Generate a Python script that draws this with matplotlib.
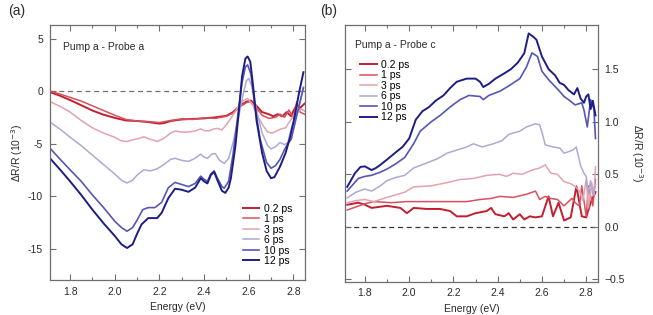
import matplotlib.pyplot as plt
from matplotlib.ticker import MultipleLocator

plt.rcParams['font.family'] = ['Liberation Sans', 'DejaVu Sans']

labels = ['0.2 ps', '1 ps', '3 ps', '6 ps', '10 ps', '12 ps']
colors = ['#c41e2e', '#d8505e', '#e2a3ae', '#abaad6', '#5656b6', '#1d1d86']
widths = [1.4, 1.1, 1.1, 1.1, 1.2, 1.4]

# (a) Pump a - Probe a
e_02a = [1.71, 1.75, 1.80, 1.85, 1.90, 1.95, 2.00, 2.05, 2.10, 2.15, 2.20, 2.22, 2.25, 2.30, 2.35,
         2.40, 2.45, 2.50, 2.53, 2.56, 2.59, 2.61, 2.63, 2.66, 2.69, 2.71, 2.73, 2.75, 2.77, 2.79,
         2.80, 2.815, 2.83, 2.85]
v_02a = [-0.1, -0.4, -0.85, -1.35, -1.85, -2.25, -2.55, -2.8, -2.85, -2.95, -3.1, -3.05, -2.85, -2.7, -2.65,
         -2.6, -2.5, -2.35, -2.0, -1.4, -1.0, -0.9, -1.3, -2.0, -2.2, -2.4, -2.2, -2.4, -2.0, -2.4,
         -1.9, -1.3, -1.6, -1.2]
e_1a = [1.71, 1.75, 1.80, 1.85, 1.90, 1.95, 2.00, 2.05, 2.10, 2.15, 2.20, 2.25, 2.30, 2.35, 2.40,
        2.45, 2.50, 2.53, 2.56, 2.59, 2.605, 2.63, 2.66, 2.69, 2.72, 2.74, 2.76, 2.78, 2.80, 2.815,
        2.83, 2.85]
v_1a = [0.0, -0.25, -0.6, -0.95, -1.4, -1.85, -2.3, -2.7, -2.85, -2.9, -3.0, -2.8, -2.65, -2.7, -2.55,
        -2.6, -2.4, -2.1, -1.5, -1.1, -1.0, -1.5, -2.3, -2.6, -2.5, -2.2, -2.5, -1.8, -2.6, -1.0,
        -2.0, -2.2]
e_3a = [1.71, 1.76, 1.80, 1.85, 1.90, 1.95, 2.00, 2.03, 2.055, 2.08, 2.11, 2.13, 2.16, 2.19, 2.22,
        2.25, 2.27, 2.30, 2.33, 2.36, 2.385, 2.40, 2.42, 2.445, 2.46, 2.48, 2.50, 2.52, 2.55, 2.575,
        2.595, 2.615, 2.64, 2.665, 2.685, 2.705, 2.725, 2.745, 2.765, 2.78, 2.80, 2.82, 2.835, 2.85]
v_3a = [-1.0, -1.5, -2.0, -2.8, -3.5, -4.0, -4.4, -4.75, -4.8, -4.65, -4.5, -4.35, -4.6, -4.8, -4.5,
        -4.0, -3.8, -3.9, -3.9, -3.8, -3.6, -3.75, -3.8, -3.6, -3.55, -3.7, -3.2, -2.6, -1.6, -0.9,
        -0.7, -1.2, -2.4, -3.3, -3.9, -4.0, -3.8, -3.6, -3.5, -3.0, -2.4, -2.0, -1.7, -1.9]
e_6a = [1.71, 1.76, 1.80, 1.85, 1.90, 1.95, 2.00, 2.03, 2.055, 2.08, 2.10, 2.13, 2.16, 2.19, 2.22,
        2.25, 2.27, 2.30, 2.33, 2.36, 2.385, 2.40, 2.415, 2.435, 2.45, 2.47, 2.49, 2.51, 2.53, 2.555,
        2.575, 2.59, 2.60, 2.615, 2.635, 2.66, 2.685, 2.70, 2.72, 2.74, 2.76, 2.775, 2.79, 2.81, 2.83,
        2.845]
v_6a = [-2.95, -3.7, -4.4, -5.2, -6.1, -7.0, -7.9, -8.5, -8.75, -8.5, -8.0, -7.5, -7.6, -7.4, -7.0,
        -6.5, -6.4, -6.6, -6.7, -6.4, -6.0, -6.3, -6.4, -6.0, -5.95, -6.6, -6.9, -6.4, -4.9, -2.4,
        -0.3, 1.0, 1.2, 0.4, -1.8, -4.0, -5.2, -5.5, -5.3, -4.9, -5.1, -4.9, -3.6, -2.4, -1.0,
        0.4]
e_10a = [1.71, 1.76, 1.80, 1.85, 1.90, 1.95, 2.00, 2.03, 2.055, 2.08, 2.10, 2.125, 2.15, 2.18, 2.21,
         2.24, 2.27, 2.30, 2.33, 2.36, 2.385, 2.40, 2.415, 2.43, 2.445, 2.46, 2.48, 2.49, 2.51, 2.53,
         2.55, 2.57, 2.585, 2.595, 2.61, 2.625, 2.65, 2.68, 2.70, 2.72, 2.74, 2.76, 2.775, 2.79, 2.81,
         2.83, 2.845]
v_10a = [-5.45, -6.6, -7.5, -8.6, -9.9, -11.1, -12.4, -13.0, -13.35, -13.0, -12.3, -11.3, -11.1, -11.1, -10.6,
         -9.2, -8.7, -8.9, -9.1, -8.8, -8.1, -8.4, -8.6, -7.9, -7.6, -8.3, -9.1, -9.25, -8.6, -6.0,
         -2.5, 0.8, 2.3, 2.5, 1.6, -1.0, -4.5, -6.8, -7.35, -7.1, -6.5, -5.6, -5.0, -4.6, -2.8,
         -1.0, 0.3]
e_12a = [1.71, 1.76, 1.80, 1.85, 1.90, 1.95, 2.00, 2.03, 2.055, 2.08, 2.10, 2.12, 2.15, 2.19, 2.21,
         2.24, 2.27, 2.30, 2.33, 2.36, 2.385, 2.40, 2.415, 2.43, 2.445, 2.46, 2.48, 2.495, 2.51, 2.52,
         2.54, 2.555, 2.57, 2.585, 2.595, 2.607, 2.62, 2.635, 2.66, 2.68, 2.70, 2.715, 2.74, 2.765, 2.785,
         2.805, 2.825, 2.845]
v_12a = [-6.4, -7.6, -8.6, -9.9, -11.3, -12.6, -13.8, -14.6, -14.95, -14.6, -13.6, -12.7, -12.1, -12.1, -11.6,
         -10.2, -9.3, -9.4, -9.6, -9.2, -8.3, -8.6, -8.8, -8.0, -7.7, -8.5, -9.5, -9.7, -9.2, -8.3,
         -5.3, -2.1, 1.4, 3.1, 3.3, 2.8, 0.4, -2.8, -5.9, -7.6, -8.3, -8.2, -7.2, -5.9, -4.4,
         -2.5, -0.2, 1.8]

# (b) Pump a - Probe c
e_02b = [1.72, 1.77, 1.80, 1.83, 1.90, 1.96, 1.99, 2.02, 2.08, 2.14, 2.185, 2.215, 2.26, 2.30, 2.35,
         2.37, 2.39, 2.43, 2.45, 2.47, 2.50, 2.52, 2.545, 2.57, 2.60, 2.63, 2.65, 2.675, 2.70, 2.73,
         2.756, 2.78, 2.80, 2.82, 2.842]
v_02b = [0.21, 0.23, 0.21, 0.18, 0.20, 0.18, 0.13, 0.18, 0.17, 0.17, 0.15, 0.10, 0.10, 0.13, 0.15,
         0.18, 0.12, 0.10, 0.13, 0.07, 0.12, 0.07, 0.10, 0.09, 0.10, 0.29, 0.10, 0.23, 0.06, 0.09,
         0.385, 0.10, 0.09, 0.23, 0.33]
e_1b = [1.72, 1.76, 1.80, 1.84, 1.92, 1.99, 2.07, 2.14, 2.215, 2.26, 2.32, 2.37, 2.41, 2.47, 2.53,
        2.571, 2.59, 2.615, 2.64, 2.67, 2.70, 2.735, 2.755, 2.77, 2.78, 2.80, 2.81, 2.83, 2.842]
v_1b = [0.16, 0.19, 0.22, 0.24, 0.23, 0.24, 0.24, 0.24, 0.24, 0.24, 0.26, 0.27, 0.29, 0.28, 0.31,
        0.34, 0.26, 0.29, 0.27, 0.26, 0.20, 0.27, 0.22, 0.20, 0.39, 0.10, 0.39, 0.20, 0.45]
e_3b = [1.72, 1.76, 1.80, 1.84, 1.90, 1.98, 2.02, 2.10, 2.17, 2.23, 2.29, 2.35, 2.408, 2.44, 2.47,
        2.51, 2.556, 2.59, 2.615, 2.64, 2.67, 2.70, 2.73, 2.75, 2.77, 2.785, 2.80, 2.81, 2.825, 2.835,
        2.842]
v_3b = [0.23, 0.25, 0.26, 0.24, 0.28, 0.33, 0.38, 0.39, 0.42, 0.45, 0.46, 0.49, 0.50, 0.48, 0.51,
        0.50, 0.54, 0.56, 0.59, 0.51, 0.50, 0.43, 0.41, 0.385, 0.34, 0.25, 0.45, 0.18, 0.42, 0.30,
        0.57]
e_6b = [1.72, 1.76, 1.80, 1.83, 1.87, 1.90, 1.94, 1.98, 2.02, 2.07, 2.13, 2.17, 2.215, 2.26, 2.29,
        2.33, 2.38, 2.42, 2.45, 2.50, 2.53, 2.57, 2.59, 2.60, 2.615, 2.65, 2.68, 2.70, 2.74, 2.755,
        2.775, 2.79, 2.80, 2.81, 2.82, 2.83, 2.842]
v_6b = [0.275, 0.33, 0.36, 0.34, 0.39, 0.44, 0.47, 0.49, 0.56, 0.60, 0.65, 0.70, 0.73, 0.76, 0.79,
        0.76, 0.79, 0.82, 0.88, 0.91, 0.95, 0.98, 0.97, 0.90, 0.78, 0.76, 0.75, 0.70, 0.73, 0.76,
        0.58, 0.51, 0.48, 0.32, 0.44, 0.30, 0.40]
e_10b = [1.72, 1.77, 1.80, 1.83, 1.87, 1.90, 1.94, 1.98, 2.02, 2.05, 2.10, 2.14, 2.185, 2.23, 2.27,
         2.32, 2.335, 2.36, 2.41, 2.45, 2.50, 2.53, 2.555, 2.58, 2.60, 2.63, 2.675, 2.70, 2.72, 2.75,
         2.78, 2.79, 2.805, 2.82, 2.835, 2.842]
v_10b = [0.34, 0.46, 0.48, 0.49, 0.52, 0.55, 0.60, 0.66, 0.79, 0.91, 1.00, 1.06, 1.14, 1.21, 1.25,
         1.24, 1.21, 1.25, 1.29, 1.34, 1.41, 1.52, 1.655, 1.62, 1.48, 1.40, 1.30, 1.24, 1.21, 1.16,
         1.18, 1.11, 0.95, 1.21, 1.12, 0.84]
e_12b = [1.72, 1.755, 1.78, 1.80, 1.83, 1.85, 1.87, 1.90, 1.94, 1.97, 2.00, 2.03, 2.06, 2.09, 2.12,
         2.155, 2.185, 2.215, 2.26, 2.30, 2.32, 2.335, 2.36, 2.39, 2.43, 2.46, 2.49, 2.52, 2.54, 2.56,
         2.575, 2.60, 2.63, 2.66, 2.68, 2.70, 2.72, 2.745, 2.76, 2.775, 2.79, 2.80, 2.81, 2.82, 2.83,
         2.842]
v_12b = [0.38, 0.51, 0.57, 0.575, 0.54, 0.56, 0.59, 0.64, 0.71, 0.76, 0.84, 1.02, 1.10, 1.14, 1.20,
         1.25, 1.32, 1.38, 1.41, 1.41, 1.38, 1.33, 1.36, 1.41, 1.46, 1.50, 1.56, 1.65, 1.84, 1.81,
         1.78, 1.62, 1.50, 1.44, 1.37, 1.35, 1.30, 1.26, 1.32, 1.22, 1.18, 1.24, 1.26, 1.12, 1.20,
         1.06]

series_a = [(e_02a, v_02a), (e_1a, v_1a), (e_3a, v_3a), (e_6a, v_6a), (e_10a, v_10a), (e_12a, v_12a)]
series_b = [(e_02b, v_02b), (e_1b, v_1b), (e_3b, v_3b), (e_6b, v_6b), (e_10b, v_10b), (e_12b, v_12b)]

fig = plt.figure(figsize=(6.53, 3.15), dpi=100)
ax1 = fig.add_axes([50 / 653, 35 / 315, 255 / 653, 255 / 315])
ax2 = fig.add_axes([345 / 653, 33.5 / 315, 252.7 / 653, 256.5 / 315])

frame = '#6e6e6e'
txt = '#2a2a2a'
fs = 7.5


def style(ax):
    for s in ax.spines.values():
        s.set_color(frame)
        s.set_linewidth(0.9)
    ax.xaxis.set_major_locator(MultipleLocator(0.2))
    ax.xaxis.set_minor_locator(MultipleLocator(0.1))
    ax.tick_params(which='both', direction='in', top=True, right=True, color=frame,
                   labelsize=fs, labelcolor=txt, width=0.8)
    ax.tick_params(which='major', length=4, pad=5)
    ax.tick_params(which='minor', length=2)
    ax.set_xlim(1.71, 2.852)
    ax.set_xlabel('Energy (eV)', fontsize=fs, color=txt, labelpad=4)


# panel a
for (e, v), c, lw, lab in zip(series_a, colors, widths, labels):
    ax1.plot(e, v, color=c, lw=lw, label=lab)
ax1.axhline(0, color='#707070', lw=0.9, ls=(0, (4, 3)), zorder=0)
style(ax1)
ax1.set_ylim(-18, 6.3)
ax1.set_yticks([5, 0, -5, -10, -15])
ax1.set_yticklabels(['5', '0', '-5', '-10', '-15'])
ax1.set_ylabel('ΔR/R (10$^{-3}$)', fontsize=fs, color=txt, labelpad=2)
ax1.text(0.052, 0.915, 'Pump a - Probe a', transform=ax1.transAxes, fontsize=fs,
         color=txt, va='center')
ax1.legend(loc='upper left', bbox_to_anchor=(0.756, 0.30), frameon=False, fontsize=fs,
           handlelength=1.6, handletextpad=0.45, labelspacing=0.05, borderpad=0,
           borderaxespad=0)

# panel b
for (e, v), c, lw, lab in zip(series_b, colors, widths, labels):
    ax2.plot(e, v, color=c, lw=lw, label=lab)
ax2.axhline(0, color='#333333', lw=0.9, ls=(0, (4, 3)), zorder=0)
style(ax2)
ax2.set_ylim(-0.52, 1.92)
ax2.set_yticks([-0.5, 0.0, 0.5, 1.0, 1.5])
ax2.tick_params(axis='y', labelleft=False, labelright=True)
ax2.yaxis.set_label_position('right')
ax2.set_ylabel('ΔR/R (10$^{-3}$)', fontsize=fs, color=txt, rotation=270, labelpad=14)
ax2.text(0.04, 0.922, 'Pump a - Probe c', transform=ax2.transAxes, fontsize=fs,
         color=txt, va='center')
ax2.legend(loc='upper left', bbox_to_anchor=(0.059, 0.865), frameon=False, fontsize=fs,
           handlelength=1.6, handletextpad=0.45, labelspacing=0.05, borderpad=0,
           borderaxespad=0)

fig.text(8 / 653, 1 - 11 / 315, '(a)', fontsize=10, color=txt, va='center')
fig.text(320 / 653, 1 - 11 / 315, '(b)', fontsize=10, color=txt, va='center')

fig.savefig('out.png', dpi=100)
